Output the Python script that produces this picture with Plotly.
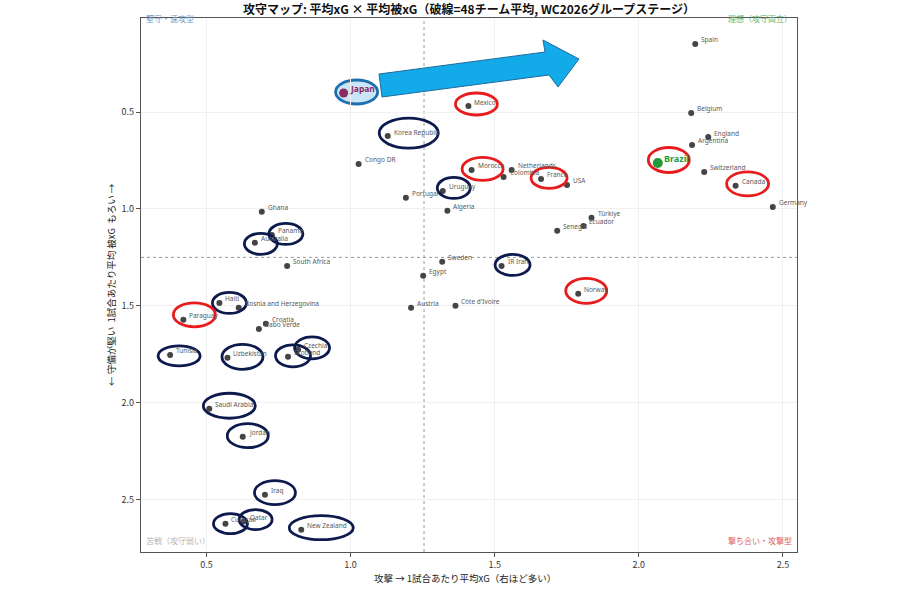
import plotly.graph_objects as go

# ---------------- data ----------------
teams = ["Spain", "Japan", "Mexico", "Belgium", "England", "Argentina", "Korea Republic",
         "Congo DR", "Brazil", "Switzerland", "Canada", "Germany", "Morocco", "Netherlands",
         "Colombia", "France", "USA", "Uruguay", "Portugal", "Algeria", "Türkiye", "Ecuador",
         "Senegal", "Ghana", "Australia", "Panama", "South Africa", "Sweden", "IR Iran",
         "Egypt", "Norway", "Austria", "Côte d'Ivoire", "Haiti", "Bosnia and Herzegovina",
         "Paraguay", "Croatia", "Cabo Verde", "Tunisia", "Uzbekistan", "Scotland", "Czechia",
         "Saudi Arabia", "Jordan", "Iraq", "Curaçao", "Qatar", "New Zealand"]
xg_for = [2.196, 0.976, 1.409, 2.182, 2.241, 2.185, 1.129,
          1.028, 2.066, 2.227, 2.336, 2.465, 1.420, 1.559,
          1.531, 1.661, 1.751, 1.320, 1.192, 1.336, 1.836, 1.808,
          1.717, 0.692, 0.668, 0.727, 0.780, 1.318, 1.524,
          1.252, 1.790, 1.210, 1.364, 0.545, 0.612,
          0.420, 0.706, 0.682, 0.374, 0.573, 0.783, 0.818,
          0.510, 0.626, 0.703, 0.566, 0.629, 0.829]
xg_against = [0.149, 0.402, 0.469, 0.505, 0.629, 0.670, 0.624,
              0.768, 0.763, 0.809, 0.881, 0.990, 0.799, 0.799,
              0.835, 0.845, 0.876, 0.907, 0.943, 1.010, 1.046, 1.088,
              1.113, 1.015, 1.175, 1.134, 1.294, 1.273, 1.294,
              1.345, 1.438, 1.510, 1.500, 1.485, 1.510,
              1.572, 1.593, 1.619, 1.753, 1.768, 1.763, 1.727,
              2.031, 2.175, 2.474, 2.624, 2.613, 2.655]
mean_for = 1.255
mean_against = 1.25

x_ticks = [0.5, 1.0, 1.5, 2.0, 2.5]
y_ticks = [0.5, 1.0, 1.5, 2.0, 2.5]

red_circled = ["Mexico", "Morocco", "France", "Brazil", "Canada", "Norway", "Paraguay"]
navy_circled = ["Korea Republic", "Uruguay", "IR Iran", "Panama", "Australia", "Haiti",
                "Tunisia", "Uzbekistan", "Scotland", "Czechia", "Saudi Arabia", "Jordan",
                "Iraq", "Curaçao", "Qatar", "New Zealand"]

# ---------------- layout geometry ----------------
X_RANGE = [0.273, 2.549]
Y_RANGE = [2.77, 0.015]
L, R, T, B = 141, 103, 18, 48
PW, PH = 900 - L - R, 600 - T - B
PX_X = PW / (X_RANGE[1] - X_RANGE[0])
PX_Y = PH / (Y_RANGE[0] - Y_RANGE[1])

# ellipse style: team -> (dx px, dy px, w px, h px)
ell_geom = {
    "Japan": (13, -1, 42, 24), "Korea Republic": (21, -3, 59, 30), "Mexico": (8, -2, 42, 22),
    "Morocco": (11, -1, 41, 23), "France": (8, -1, 36, 21), "Brazil": (11, -3, 41, 25),
    "Canada": (12, -2, 42, 24), "Uruguay": (11, -3, 33, 21), "IR Iran": (11, -1, 35, 21),
    "Norway": (8, -3, 41, 25), "Panama": (14, -1, 34, 21), "Australia": (6, 1, 33, 21),
    "Haiti": (10, 0, 34, 21), "Paraguay": (11, -5, 42, 24), "Tunisia": (9, 1, 42, 20),
    "Uzbekistan": (15, -1, 41, 25), "Scotland": (5, -1, 35, 22), "Czechia": (14, -2, 35, 22),
    "Saudi Arabia": (20, -3, 52, 25), "Jordan": (5, -1, 41, 24), "Iraq": (10, -2, 41, 24),
    "Curaçao": (5, 0, 34, 20), "Qatar": (12, -2, 33, 20), "New Zealand": (20, -2, 64, 24),
}

fig = go.Figure()

others = [i for i, t in enumerate(teams) if t not in ("Japan", "Brazil")]
fig.add_trace(go.Scatter(
    x=[xg_for[i] for i in others], y=[xg_against[i] for i in others],
    text=[teams[i] for i in others], mode="markers",
    marker=dict(size=6, color="#454545"),
    hoverinfo="text", showlegend=False))

iJ = teams.index("Japan")
fig.add_trace(go.Scatter(
    x=[xg_for[iJ]], y=[xg_against[iJ]], mode="markers",
    marker=dict(size=9, color="#8a2b62"), showlegend=False))
iB = teams.index("Brazil")
fig.add_trace(go.Scatter(
    x=[xg_for[iB]], y=[xg_against[iB]], mode="markers",
    marker=dict(size=10, color="#219a3a"), showlegend=False))

annotations = []
for i, t in enumerate(teams):
    if t == "Japan":
        txt, col, sz = "<b>Japan</b>", "#8a2b62", 8.5
    elif t == "Brazil":
        txt, col, sz = "<b>Brazil</b>", "#219a3a", 9
    else:
        txt, col, sz = t, "#5a5a5a", 6.5
    annotations.append(dict(x=xg_for[i], y=xg_against[i], xref="x", yref="y", text=txt,
                            showarrow=False, xanchor="left", yanchor="middle",
                            xshift=4, yshift=4, font=dict(size=sz, color=col, family="Noto Sans")))

shapes = []
# mean lines
shapes.append(dict(type="line", xref="x", yref="paper", x0=mean_for, x1=mean_for, y0=0, y1=1,
                   line=dict(color="#9a9a9a", width=1, dash="dot"), layer="below"))
shapes.append(dict(type="line", xref="paper", yref="y", x0=0, x1=1, y0=mean_against, y1=mean_against,
                   line=dict(color="#9a9a9a", width=1, dash="dot"), layer="below"))

# ellipses
for t, (dx, dy, w, h) in ell_geom.items():
    i = teams.index(t)
    cx = xg_for[i] + dx / PX_X
    cy = xg_against[i] + dy / PX_Y
    hw = w / 2 / PX_X
    hh = h / 2 / PX_Y
    if t == "Japan":
        col, fill = "#1f6fae", "rgba(190,226,246,0.85)"
    elif t in red_circled:
        col, fill = "#e81c1c", "rgba(0,0,0,0)"
    else:
        col, fill = "#0d1a4e", "rgba(0,0,0,0)"
    shapes.append(dict(type="circle", xref="x", yref="y", x0=cx - hw, x1=cx + hw,
                       y0=cy - hh, y1=cy + hh, line=dict(color=col, width=2.8),
                       fillcolor=fill, layer="below" if t == "Japan" else "above"))

# block arrow (pixel outline -> paper coordinates)
arrow_px = [(379, 74), (545, 52), (543, 40), (579, 59), (558, 87), (549, 75), (382, 97)]
def to_paper(p):
    return (p[0] - L) / PW, (600 - B - p[1]) / PH
pts = [to_paper(p) for p in arrow_px]
path = "M " + " L ".join(f"{x:.4f},{y:.4f}" for x, y in pts) + " Z"
shapes.append(dict(type="path", xref="paper", yref="paper", path=path,
                   fillcolor="#12aae8", line=dict(color="#1d6a9c", width=1)))

annotations += [
    dict(text="堅守・速攻型", xref="paper", yref="paper", x=0.005, y=1.0, xanchor="left",
         yanchor="middle", showarrow=False, font=dict(size=8, color="#6f9cc8")),
    dict(text="理想（攻守両立）", xref="paper", yref="paper", x=0.995, y=1.0, xanchor="right",
         yanchor="middle", showarrow=False, font=dict(size=8, color="#5fb36a")),
    dict(text="苦戦（攻守弱い）", xref="paper", yref="paper", x=0.005, y=0.008, xanchor="left",
         yanchor="bottom", showarrow=False, font=dict(size=8, color="#b5b5b5")),
    dict(text="撃ち合い・攻撃型", xref="paper", yref="paper", x=0.995, y=0.008, xanchor="right",
         yanchor="bottom", showarrow=False, font=dict(size=8, color="#e0605a")),
    dict(text="攻撃 → 1試合あたり平均xG（右ほど多い）", xref="paper", yref="paper",
         x=(465 - L) / PW, y=(552 - 578) / PH, xanchor="center", yanchor="middle",
         showarrow=False, font=dict(size=9.5, color="#222222")),
    dict(text="← 守備が堅い  1試合あたり平均 被xG  もろい →", xref="paper", yref="paper",
         x=(111 - L) / PW, y=0.5, xanchor="center", yanchor="middle", textangle=-90,
         showarrow=False, font=dict(size=9.5, color="#222222")),
]

fig.update_layout(
    width=900, height=600,
    margin=dict(l=L, r=R, t=T, b=B),
    paper_bgcolor="white", plot_bgcolor="white",
    font=dict(family="Noto Sans CJK JP, Noto Sans, sans-serif", color="#333333"),
    title=dict(text="<b>攻守マップ: 平均xG × 平均被xG（破線=48チーム平均, WC2026グループステージ）</b>",
               x=(L + PW / 2) / 900, xanchor="center", y=1 - 10 / 600, yanchor="middle",
               font=dict(size=12, color="#111111")),
    xaxis=dict(range=X_RANGE, tickvals=x_ticks, ticktext=[f"{v:.1f}" for v in x_ticks],
               showgrid=True, gridcolor="#f0f0f0", zeroline=False,
               showline=True, linecolor="#555555", linewidth=1.2, mirror=True,
               ticks="outside", ticklen=4, tickcolor="#555555",
               tickfont=dict(size=9, color="#333333")),
    yaxis=dict(range=Y_RANGE, tickvals=y_ticks, ticktext=[f"{v:.1f}" for v in y_ticks],
               showgrid=True, gridcolor="#f0f0f0", zeroline=False,
               showline=True, linecolor="#555555", linewidth=1.2, mirror=True,
               ticks="outside", ticklen=4, tickcolor="#555555",
               tickfont=dict(size=9, color="#333333")),
    shapes=shapes, annotations=annotations,
)

fig.write_html("out.html")
